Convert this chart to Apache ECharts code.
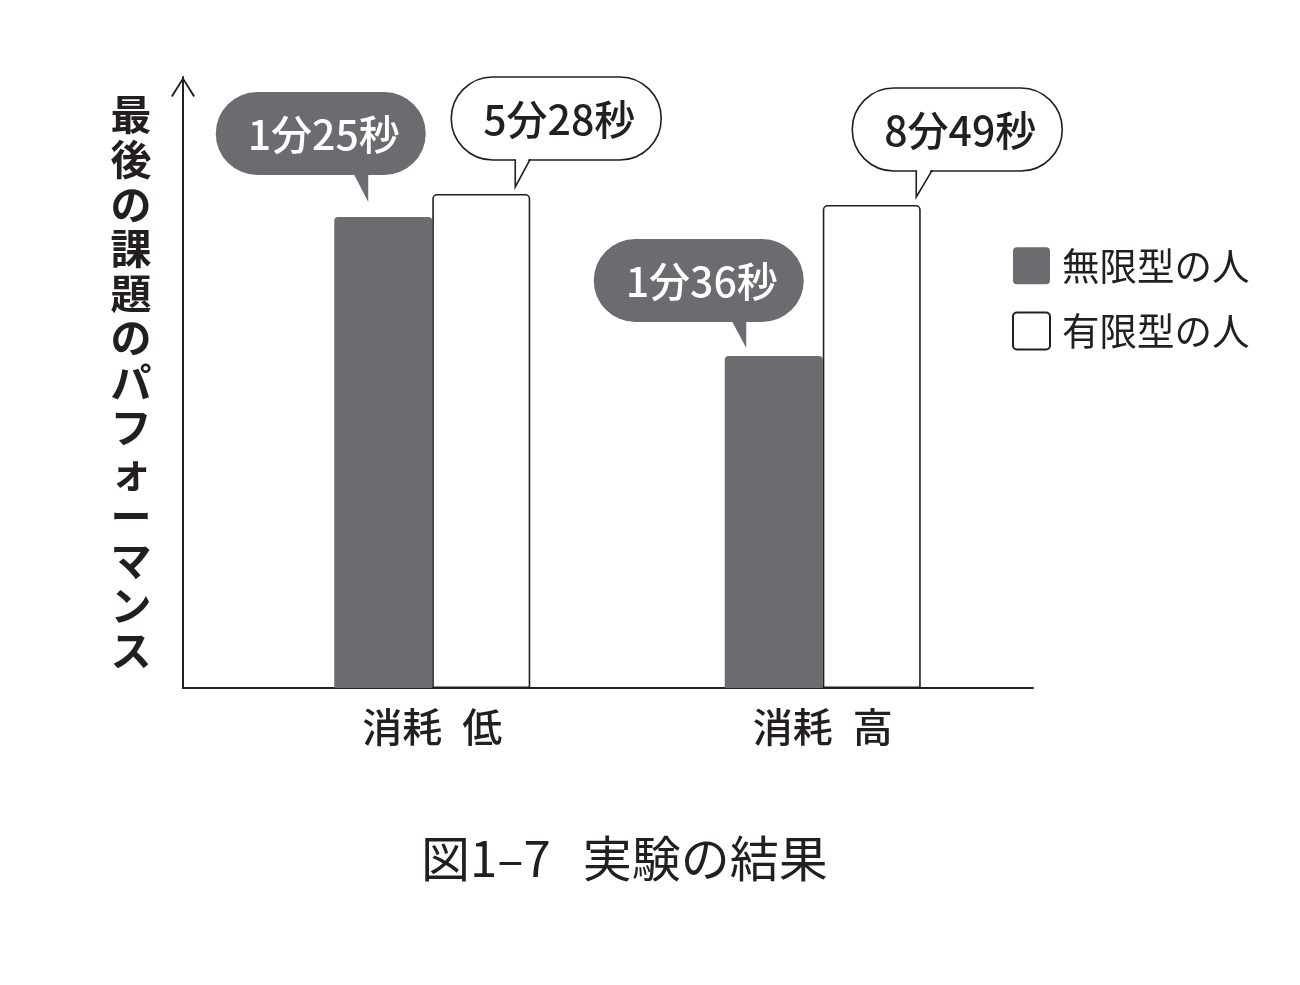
<!DOCTYPE html>
<html>
<head>
<meta charset="utf-8">
<script src="https://cdn.jsdelivr.net/npm/echarts@6/dist/echarts.min.js"></script>
<style>
html,body{margin:0;padding:0;background:#fff;}
#chart{width:1300px;height:985px;}
</style>
</head>
<body>
<div id="chart"></div>
<script>
// ---- data ----
const categories = ['消耗 低', '消耗 高'];
const seriesNames = ['無限型の人', '有限型の人'];
const infiniteValues = [471, 332];   // relative performance (bar height)
const finiteValues = [494, 483];
const infiniteLabels = ['1分25秒', '1分36秒'];
const finiteLabels = ['5分28秒', '8分49秒'];
const yAxisName = '最後の課題のパフォーマンス';
const titleText = '図1–7 実験の結果';

// ---- styling ----
const INK = '#231f20';
const DARK = '#6b6c70';
const FONT = '"Noto Sans CJK JP", "Noto Sans", sans-serif';
const BAR_W = 98;
const BUBBLE_W = 210, BUBBLE_H = 83;
// bubble placement relative to the top-centre of its bar
const bubbleLayout = [
  [ {dx: -62.5, dy: -42, tipDx: -15, tipDy: -15, baseDx: -31},
    {dx: -75, dy: -34, tipDx: -27.5, tipDy: -8, baseDx: -43.5} ],
  [ {dx: 75, dy: -34, tipDx: 34, tipDy: -7, baseDx: 49},
    {dx: 85.5, dy: -34, tipDx: 44.5, tipDy: -8, baseDx: 60.5} ]
];

function bubbleRenderer(groupIdx, labels) {
  const isDark = groupIdx === 0;
  return function (params, api) {
    const i = params.dataIndex;
    const p = api.coord([api.value(0), api.value(1)]);
    const bx = p[0] + (isDark ? -BAR_W / 2 : BAR_W / 2);
    const by = p[1];
    const L = bubbleLayout[groupIdx][i];
    const w = BUBBLE_W, h = BUBBLE_H;
    const cx = bx + L.dx;
    const bottom = by + L.dy;
    const top = bottom - h;
    const left = cx - w / 2;
    const tipX = bx + L.tipDx, tipY = by + L.tipDy, baseX = bx + L.baseDx;
    const fill = isDark ? DARK : '#fff';
    const children = [
      {type: 'rect', shape: {x: left, y: top, width: w, height: h, r: h / 2},
       style: {fill: fill, stroke: isDark ? null : INK, lineWidth: 1.6}},
      {type: 'polygon', shape: {points: [[tipX, bottom - 4], [tipX, tipY], [baseX, bottom - 4]]},
       style: {fill: fill}}
    ];
    if (!isDark) {
      children.push({type: 'polyline', shape: {points: [[baseX, bottom - 0.8], [tipX, tipY], [tipX, bottom - 0.8]]},
        style: {stroke: INK, lineWidth: 1.6, fill: null}});
    }
    children.push({type: 'text', style: {
      text: labels[i], x: cx + 3, y: top + h / 2 + 1, align: 'center', verticalAlign: 'middle',
      fill: isDark ? '#fff' : INK, fontSize: 41, fontWeight: 500, fontFamily: FONT}});
    return {type: 'group', children: children};
  };
}

const legendIcon = 'path://M4,0 H33 A4,4 0 0 1 37,4 V33 A4,4 0 0 1 33,37 H4 A4,4 0 0 1 0,33 V4 A4,4 0 0 1 4,0 Z';
const arrowHead = 'path://M12,0 L24,18.8 L22.3,19.8 L12,3.2 L1.7,19.8 L0,18.8 Z';

const chart = echarts.init(document.getElementById('chart'), null, {renderer: 'canvas'});
chart.setOption({
  backgroundColor: '#fff',
  animation: false,
  title: {
    text: titleText.replace(' ', '{sp| }'), left: 416, top: 829,
    textStyle: {fontSize: 49, fontWeight: 'normal', color: INK, fontFamily: FONT,
      rich: {sp: {width: 32, fontSize: 49}}}
  },
  legend: {
    data: seriesNames, orient: 'vertical', left: 1012, top: 247, padding: 0,
    itemWidth: 37, itemHeight: 37, itemGap: 27, icon: legendIcon,
    textStyle: {fontSize: 37.5, color: INK, fontFamily: FONT, padding: [0, 0, 0, 7]}
  },
  grid: [
    {left: 237, width: 781, top: 77, bottom: 297},
    {left: 183, right: 267, top: 77, bottom: 297}
  ],
  xAxis: [
    {gridIndex: 0, type: 'category', data: categories,
     axisLine: {show: false}, axisTick: {show: false},
     axisLabel: {fontSize: 40, fontWeight: 500, color: INK, fontFamily: FONT, margin: 19,
       formatter: v => v.replace(' ', '{sp| }'),
       rich: {sp: {width: 20, fontSize: 40}}}},
    {gridIndex: 1, type: 'category', data: categories,
     axisLine: {show: true, lineStyle: {color: INK, width: 2}}, axisTick: {show: false}, axisLabel: {show: false}}
  ],
  yAxis: [
    {gridIndex: 0, type: 'value', min: 0, max: 611, show: false},
    {gridIndex: 1, type: 'value', min: 0, max: 611,
     axisLine: {show: true, lineStyle: {color: INK, width: 2}, symbol: ['none', arrowHead], symbolSize: [24, 20], symbolOffset: [0, -10]},
     axisTick: {show: false}, axisLabel: {show: false}, splitLine: {show: false},
     name: yAxisName.split('').join('\n'), nameLocation: 'middle', nameGap: 52, nameRotate: 0,
     nameTextStyle: {fontSize: 41, fontWeight: 'bold', color: INK, fontFamily: FONT, lineHeight: 44.6,
       align: 'center', verticalAlign: 'middle', padding: [22, 0, 0, 0]}}
  ],
  series: [
    {name: seriesNames[0], type: 'bar', xAxisIndex: 0, yAxisIndex: 0, data: infiniteValues,
     barWidth: BAR_W, barGap: '0%',
     itemStyle: {color: DARK, borderRadius: [4, 4, 0, 0]}},
    {name: seriesNames[1], type: 'bar', xAxisIndex: 0, yAxisIndex: 0, data: finiteValues,
     barWidth: BAR_W, barGap: '0%',
     itemStyle: {color: '#fff', borderColor: INK, borderWidth: 1.6, borderRadius: [4, 4, 0, 0]}},
    {type: 'custom', xAxisIndex: 0, yAxisIndex: 0, clip: false, z: 5,
     data: infiniteValues.map((v, i) => [i, v]), renderItem: bubbleRenderer(0, infiniteLabels)},
    {type: 'custom', xAxisIndex: 0, yAxisIndex: 0, clip: false, z: 5,
     data: finiteValues.map((v, i) => [i, v]), renderItem: bubbleRenderer(1, finiteLabels)}
  ]
});
</script>
</body>
</html>
